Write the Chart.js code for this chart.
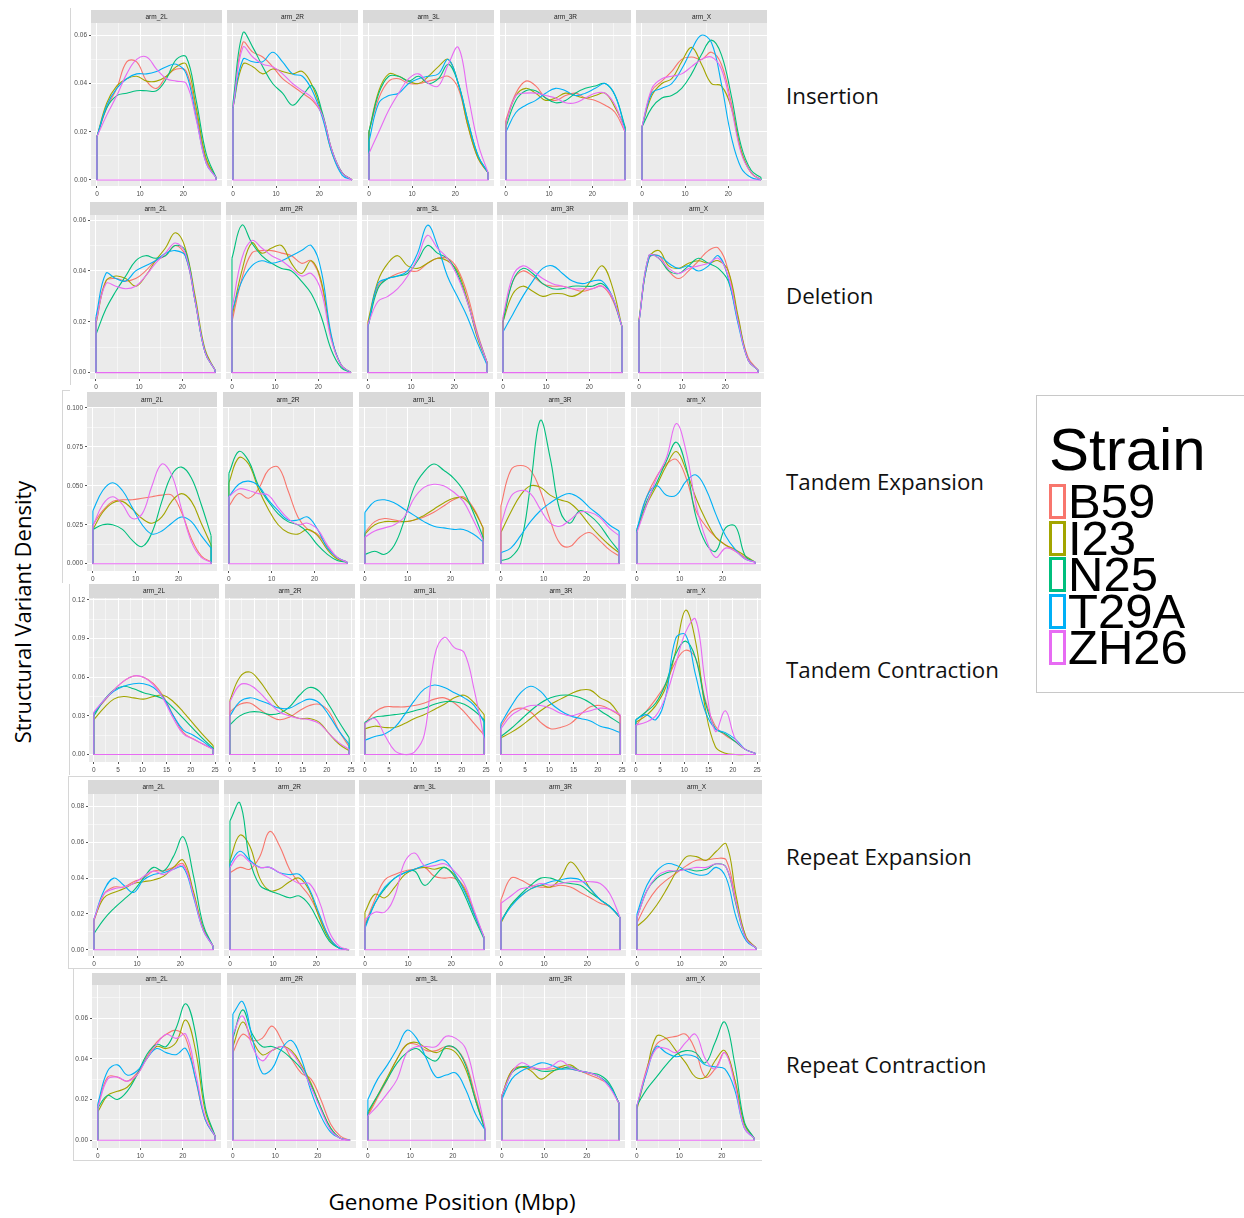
<!DOCTYPE html>
<html>
<head>
<meta charset="utf-8">
<script src="https://cdn.jsdelivr.net/npm/chart.js@4.4.0/dist/chart.umd.min.js"></script>
<style>
    body { margin: 0; width: 1244px; height: 1218px; position: relative; overflow: hidden; background: #fff; font-family: "Open Sans", sans-serif; }
    canvas { position: absolute; }
    .rowLabel { position: absolute; left: 786px; font-size: 22.3px; color: #111; white-space: nowrap; transform: translateY(-50%); }
    .line { position: absolute; background: #d6d6d6; }
    #yTitle { position: absolute; left: 22px; top: 612px; font-size: 22px; white-space: nowrap; transform: translate(-50%, -50%) rotate(-90deg); }
    #xTitle { position: absolute; left: 452px; top: 1201px; font-size: 22.5px; white-space: nowrap; transform: translate(-50%, -50%); }
    #legend { position: absolute; left: 1036px; top: 395px; width: 215px; height: 296px; border: 1px solid #c8c8c8; font-family: "Liberation Sans", Arial, sans-serif; color: #000; }
    #legend .title { position: absolute; left: 12px; top: 24px; font-size: 60px; line-height: 60px; }
    #legend .item { position: absolute; left: 31px; font-size: 49px; line-height: 37px; height: 37px; }
    #legend .key { position: absolute; left: 12px; width: 11px; height: 29px; border: 3px solid; background: #fff; }
</style>
</head>
<body>
<div class="line" style="left:70px;top:8px;width:1px;height:377px"></div>
<div class="line" style="left:62px;top:390px;width:1px;height:193px"></div>
<div class="line" style="left:62px;top:390px;width:8px;height:1px"></div>
<div class="line" style="left:69px;top:584px;width:1px;height:191px"></div>
<div class="line" style="left:68px;top:776px;width:694px;height:1px"></div>
<div class="line" style="left:68px;top:776px;width:1px;height:192px"></div>
<div class="line" style="left:68px;top:968px;width:694px;height:1px"></div>
<div class="line" style="left:73px;top:968px;width:1px;height:192px"></div>
<div class="line" style="left:73px;top:1160px;width:689px;height:1px"></div>
<div id="yTitle">Structural Variant Density</div>
<div id="xTitle">Genome Position (Mbp)</div>
<div id="legend"></div>

<script>
const strains = ['B59', 'I23', 'N25', 'T29A', 'ZH26'];
const strainColors = ['#F8766D', '#A3A500', '#00BF7D', '#00B0F6', '#E76BF3'];
const arms = ['arm_2L', 'arm_2R', 'arm_3L', 'arm_3R', 'arm_X'];

// genome positions (Mbp) where the densities are read
const positions = [0, 2.3, 4.6, 6.9, 9.2, 11.5, 13.8, 16.1, 18.4, 20.7, 23, 25.3, 27.6];
const positionsTC = [0, 2.05, 4.1, 6.15, 8.2, 10.25, 12.3, 14.35, 16.4, 18.45, 20.5, 22.55, 24.6];

// tick labels
const xTicks = [0, 10, 20];
const xTicksTC = [0, 5, 10, 15, 20, 25];
const yTicksIns = ['0.00', '0.02', '0.04', '0.06'];
const yTicksDel = ['0.00', '0.02', '0.04', '0.06'];
const yTicksTE = ['0.000', '0.025', '0.050', '0.075', '0.100'];
const yTicksTC = ['0.00', '0.03', '0.06', '0.09', '0.12'];
const yTicksRE = ['0.00', '0.02', '0.04', '0.06', '0.08'];
const yTicksRC = ['0.00', '0.02', '0.04', '0.06'];

// densities, one row per strain (B59, I23, N25, T29A, ZH26)
const insertion2L = [
    [0.018, 0.030, 0.038, 0.049, 0.049, 0.041, 0.038, 0.043, 0.046, 0.045, 0.028, 0.008, 0.001],
    [0.018, 0.032, 0.039, 0.042, 0.043, 0.041, 0.041, 0.043, 0.047, 0.048, 0.030, 0.009, 0.001],
    [0.018, 0.030, 0.035, 0.036, 0.037, 0.037, 0.037, 0.042, 0.050, 0.051, 0.033, 0.011, 0.001],
    [0.018, 0.031, 0.038, 0.042, 0.044, 0.044, 0.045, 0.047, 0.048, 0.044, 0.026, 0.007, 0.001],
    [0.018, 0.027, 0.035, 0.044, 0.050, 0.051, 0.046, 0.042, 0.041, 0.040, 0.025, 0.007, 0.001]
];
const insertion2R = [
    [0.030, 0.057, 0.053, 0.051, 0.047, 0.042, 0.039, 0.036, 0.033, 0.027, 0.012, 0.003, 0],
    [0.030, 0.048, 0.047, 0.044, 0.046, 0.045, 0.044, 0.045, 0.039, 0.027, 0.011, 0.003, 0],
    [0.032, 0.061, 0.055, 0.047, 0.040, 0.036, 0.031, 0.035, 0.039, 0.028, 0.012, 0.003, 0],
    [0.030, 0.050, 0.049, 0.049, 0.053, 0.049, 0.044, 0.043, 0.037, 0.026, 0.011, 0.002, 0],
    [0.030, 0.055, 0.051, 0.048, 0.047, 0.044, 0.040, 0.037, 0.034, 0.027, 0.012, 0.003, 0]
];
const insertion3L = [
    [0.020, 0.034, 0.041, 0.042, 0.040, 0.040, 0.041, 0.042, 0.043, 0.038, 0.022, 0.009, 0.003],
    [0.020, 0.037, 0.044, 0.043, 0.041, 0.040, 0.043, 0.047, 0.050, 0.040, 0.022, 0.009, 0.003],
    [0.020, 0.036, 0.043, 0.043, 0.041, 0.043, 0.040, 0.042, 0.048, 0.040, 0.024, 0.010, 0.003],
    [0.016, 0.032, 0.035, 0.036, 0.040, 0.042, 0.043, 0.044, 0.050, 0.040, 0.024, 0.010, 0.003],
    [0.011, 0.020, 0.029, 0.036, 0.042, 0.044, 0.040, 0.039, 0.048, 0.055, 0.035, 0.015, 0.003]
];
const insertion3R = [
    [0.025, 0.036, 0.041, 0.039, 0.034, 0.033, 0.035, 0.036, 0.034, 0.033, 0.031, 0.028, 0.020],
    [0.024, 0.035, 0.038, 0.036, 0.033, 0.034, 0.036, 0.035, 0.034, 0.035, 0.036, 0.030, 0.022],
    [0.022, 0.033, 0.037, 0.037, 0.034, 0.032, 0.033, 0.036, 0.038, 0.039, 0.040, 0.035, 0.022],
    [0.020, 0.028, 0.031, 0.033, 0.036, 0.038, 0.037, 0.035, 0.036, 0.038, 0.040, 0.035, 0.021],
    [0.024, 0.035, 0.036, 0.036, 0.035, 0.034, 0.032, 0.032, 0.034, 0.036, 0.036, 0.031, 0.020]
];
const insertionX = [
    [0.022, 0.037, 0.041, 0.045, 0.050, 0.051, 0.050, 0.053, 0.048, 0.032, 0.012, 0.003, 0],
    [0.022, 0.035, 0.040, 0.042, 0.049, 0.055, 0.048, 0.040, 0.039, 0.030, 0.012, 0.003, 0],
    [0.022, 0.030, 0.034, 0.035, 0.038, 0.044, 0.052, 0.058, 0.052, 0.035, 0.014, 0.004, 0.001],
    [0.022, 0.036, 0.038, 0.040, 0.046, 0.054, 0.060, 0.057, 0.040, 0.018, 0.005, 0.001, 0],
    [0.022, 0.038, 0.042, 0.043, 0.044, 0.047, 0.050, 0.051, 0.046, 0.030, 0.011, 0.003, 0]
];

const deletion2L = [
    [0.021, 0.036, 0.037, 0.036, 0.037, 0.040, 0.044, 0.046, 0.050, 0.046, 0.028, 0.008, 0.001],
    [0.019, 0.036, 0.038, 0.037, 0.034, 0.038, 0.044, 0.049, 0.055, 0.049, 0.030, 0.009, 0.001],
    [0.015, 0.025, 0.032, 0.038, 0.044, 0.046, 0.045, 0.046, 0.050, 0.048, 0.028, 0.008, 0.001],
    [0.022, 0.039, 0.037, 0.036, 0.040, 0.042, 0.044, 0.047, 0.048, 0.046, 0.028, 0.008, 0.001],
    [0.020, 0.035, 0.034, 0.033, 0.034, 0.038, 0.043, 0.047, 0.051, 0.047, 0.028, 0.008, 0.001]
];
const deletion2R = [
    [0.020, 0.037, 0.047, 0.048, 0.048, 0.047, 0.046, 0.043, 0.044, 0.035, 0.014, 0.003, 0],
    [0.022, 0.040, 0.051, 0.047, 0.049, 0.050, 0.043, 0.039, 0.044, 0.036, 0.014, 0.003, 0],
    [0.045, 0.058, 0.051, 0.046, 0.043, 0.041, 0.040, 0.036, 0.031, 0.022, 0.009, 0.002, 0],
    [0.024, 0.036, 0.042, 0.044, 0.043, 0.044, 0.046, 0.048, 0.050, 0.040, 0.015, 0.003, 0],
    [0.025, 0.045, 0.052, 0.049, 0.046, 0.044, 0.041, 0.038, 0.039, 0.032, 0.013, 0.003, 0]
];
const deletion3L = [
    [0.019, 0.034, 0.037, 0.039, 0.040, 0.040, 0.043, 0.045, 0.045, 0.041, 0.031, 0.016, 0.004],
    [0.020, 0.036, 0.043, 0.046, 0.042, 0.041, 0.043, 0.045, 0.044, 0.040, 0.029, 0.014, 0.004],
    [0.018, 0.033, 0.037, 0.038, 0.039, 0.044, 0.050, 0.047, 0.045, 0.039, 0.028, 0.015, 0.004],
    [0.018, 0.035, 0.037, 0.038, 0.040, 0.047, 0.058, 0.050, 0.038, 0.030, 0.022, 0.012, 0.003],
    [0.019, 0.028, 0.030, 0.033, 0.038, 0.045, 0.054, 0.049, 0.045, 0.038, 0.028, 0.015, 0.004]
];
const deletion3R = [
    [0.021, 0.036, 0.040, 0.038, 0.035, 0.034, 0.034, 0.033, 0.032, 0.033, 0.034, 0.029, 0.018],
    [0.020, 0.031, 0.034, 0.032, 0.030, 0.031, 0.031, 0.030, 0.032, 0.037, 0.042, 0.034, 0.018],
    [0.020, 0.036, 0.041, 0.039, 0.035, 0.033, 0.033, 0.034, 0.034, 0.034, 0.035, 0.030, 0.018],
    [0.016, 0.023, 0.030, 0.036, 0.041, 0.042, 0.039, 0.036, 0.035, 0.036, 0.036, 0.030, 0.018],
    [0.022, 0.038, 0.042, 0.040, 0.037, 0.035, 0.034, 0.033, 0.033, 0.033, 0.034, 0.030, 0.018]
];
const deletionX = [
    [0.020, 0.045, 0.046, 0.040, 0.037, 0.040, 0.044, 0.048, 0.049, 0.040, 0.021, 0.006, 0.001],
    [0.021, 0.045, 0.048, 0.042, 0.041, 0.043, 0.044, 0.043, 0.044, 0.040, 0.022, 0.005, 0.001],
    [0.020, 0.046, 0.045, 0.040, 0.039, 0.042, 0.045, 0.043, 0.041, 0.036, 0.020, 0.005, 0.001],
    [0.020, 0.045, 0.046, 0.043, 0.041, 0.042, 0.040, 0.042, 0.046, 0.037, 0.019, 0.005, 0.001],
    [0.020, 0.046, 0.045, 0.041, 0.039, 0.041, 0.042, 0.043, 0.045, 0.038, 0.020, 0.005, 0.001]
];

const tandemExp2L = [
    [0.025, 0.034, 0.040, 0.041, 0.041, 0.042, 0.043, 0.044, 0.044, 0.033, 0.016, 0.005, 0.001],
    [0.022, 0.033, 0.039, 0.040, 0.035, 0.029, 0.026, 0.030, 0.040, 0.045, 0.040, 0.026, 0.012],
    [0.022, 0.025, 0.025, 0.022, 0.015, 0.011, 0.020, 0.040, 0.057, 0.062, 0.055, 0.038, 0.018],
    [0.034, 0.047, 0.052, 0.047, 0.036, 0.025, 0.019, 0.021, 0.026, 0.030, 0.027, 0.018, 0.010],
    [0.024, 0.038, 0.043, 0.038, 0.029, 0.032, 0.050, 0.064, 0.057, 0.035, 0.014, 0.004, 0.001]
];
const tandemExp2R = [
    [0.037, 0.045, 0.042, 0.048, 0.060, 0.062, 0.047, 0.030, 0.022, 0.019, 0.011, 0.004, 0.001],
    [0.052, 0.068, 0.064, 0.048, 0.035, 0.025, 0.020, 0.019, 0.022, 0.018, 0.009, 0.003, 0.001],
    [0.058, 0.072, 0.066, 0.050, 0.040, 0.032, 0.027, 0.025, 0.020, 0.012, 0.006, 0.002, 0.001],
    [0.043, 0.051, 0.053, 0.050, 0.041, 0.034, 0.028, 0.028, 0.030, 0.022, 0.010, 0.004, 0.001],
    [0.043, 0.048, 0.047, 0.045, 0.044, 0.036, 0.029, 0.025, 0.026, 0.022, 0.012, 0.004, 0.001]
];
const tandemExp3L = [
    [0.020, 0.027, 0.029, 0.028, 0.027, 0.028, 0.030, 0.033, 0.037, 0.041, 0.043, 0.036, 0.023],
    [0.019, 0.025, 0.027, 0.027, 0.027, 0.028, 0.031, 0.035, 0.039, 0.042, 0.042, 0.035, 0.023],
    [0.006, 0.008, 0.006, 0.012, 0.028, 0.049, 0.059, 0.064, 0.060, 0.055, 0.047, 0.033, 0.017],
    [0.033, 0.040, 0.041, 0.039, 0.035, 0.031, 0.027, 0.024, 0.023, 0.022, 0.022, 0.019, 0.014],
    [0.017, 0.021, 0.023, 0.025, 0.030, 0.042, 0.049, 0.051, 0.050, 0.046, 0.040, 0.028, 0.015]
];
const tandemExp3R = [
    [0.037, 0.060, 0.063, 0.060, 0.047, 0.028, 0.013, 0.011, 0.017, 0.020, 0.015, 0.009, 0.005],
    [0.020, 0.033, 0.044, 0.050, 0.049, 0.044, 0.041, 0.039, 0.033, 0.025, 0.018, 0.012, 0.007],
    [0.002, 0.004, 0.013, 0.050, 0.092, 0.068, 0.034, 0.026, 0.034, 0.031, 0.025, 0.016, 0.008],
    [0.007, 0.010, 0.018, 0.027, 0.034, 0.039, 0.043, 0.045, 0.042, 0.036, 0.031, 0.025, 0.021],
    [0.025, 0.043, 0.047, 0.045, 0.035, 0.026, 0.024, 0.028, 0.033, 0.033, 0.030, 0.023, 0.018]
];
const tandemExpX = [
    [0.021, 0.043, 0.056, 0.064, 0.067, 0.055, 0.034, 0.024, 0.017, 0.012, 0.008, 0.004, 0.001],
    [0.021, 0.038, 0.050, 0.063, 0.072, 0.060, 0.042, 0.028, 0.017, 0.012, 0.009, 0.005, 0.001],
    [0.022, 0.040, 0.052, 0.066, 0.078, 0.062, 0.030, 0.013, 0.008, 0.023, 0.024, 0.005, 0.001],
    [0.022, 0.043, 0.050, 0.044, 0.044, 0.053, 0.057, 0.048, 0.032, 0.018, 0.009, 0.003, 0.001],
    [0.020, 0.038, 0.055, 0.068, 0.090, 0.072, 0.038, 0.016, 0.004, 0.010, 0.008, 0.003, 0.001]
];

const tandemCon2L = [
    [0.032, 0.041, 0.050, 0.057, 0.061, 0.060, 0.055, 0.045, 0.030, 0.017, 0.012, 0.008, 0.004],
    [0.027, 0.036, 0.043, 0.045, 0.044, 0.043, 0.045, 0.046, 0.041, 0.033, 0.024, 0.015, 0.007],
    [0.030, 0.042, 0.050, 0.053, 0.051, 0.048, 0.046, 0.043, 0.036, 0.028, 0.020, 0.012, 0.005],
    [0.032, 0.042, 0.049, 0.053, 0.055, 0.055, 0.052, 0.044, 0.030, 0.019, 0.015, 0.010, 0.004],
    [0.033, 0.042, 0.050, 0.057, 0.061, 0.060, 0.054, 0.043, 0.028, 0.016, 0.012, 0.008, 0.004]
];
const tandemCon2R = [
    [0.033, 0.039, 0.040, 0.035, 0.030, 0.027, 0.029, 0.034, 0.038, 0.039, 0.033, 0.018, 0.006],
    [0.042, 0.060, 0.064, 0.057, 0.046, 0.036, 0.031, 0.028, 0.028, 0.025, 0.016, 0.008, 0.003],
    [0.023, 0.030, 0.033, 0.033, 0.031, 0.032, 0.037, 0.046, 0.052, 0.049, 0.038, 0.025, 0.013],
    [0.030, 0.041, 0.044, 0.042, 0.039, 0.036, 0.036, 0.040, 0.043, 0.040, 0.030, 0.018, 0.008],
    [0.041, 0.054, 0.054, 0.048, 0.040, 0.033, 0.030, 0.028, 0.027, 0.024, 0.016, 0.009, 0.004]
];
const tandemCon3L = [
    [0.024, 0.033, 0.037, 0.037, 0.037, 0.038, 0.040, 0.043, 0.044, 0.040, 0.033, 0.024, 0.015],
    [0.020, 0.022, 0.021, 0.021, 0.024, 0.028, 0.031, 0.035, 0.039, 0.044, 0.046, 0.040, 0.031],
    [0.025, 0.029, 0.030, 0.031, 0.032, 0.034, 0.036, 0.039, 0.041, 0.041, 0.039, 0.034, 0.027],
    [0.011, 0.014, 0.016, 0.021, 0.031, 0.042, 0.051, 0.054, 0.052, 0.048, 0.044, 0.038, 0.025],
    [0.024, 0.028, 0.015, 0.003, 0.000, 0.002, 0.016, 0.076, 0.091, 0.083, 0.079, 0.050, 0.012]
];
const tandemCon3R = [
    [0.022, 0.033, 0.036, 0.033, 0.025, 0.020, 0.021, 0.024, 0.031, 0.037, 0.038, 0.035, 0.030],
    [0.013, 0.017, 0.022, 0.028, 0.034, 0.039, 0.043, 0.047, 0.050, 0.050, 0.044, 0.040, 0.030],
    [0.014, 0.020, 0.027, 0.034, 0.040, 0.044, 0.046, 0.046, 0.044, 0.040, 0.034, 0.029, 0.024],
    [0.024, 0.037, 0.048, 0.053, 0.049, 0.040, 0.034, 0.030, 0.028, 0.026, 0.022, 0.020, 0.017],
    [0.020, 0.030, 0.035, 0.038, 0.038, 0.036, 0.032, 0.030, 0.032, 0.034, 0.036, 0.035, 0.031]
];
const tandemConX = [
    [0.022, 0.033, 0.043, 0.055, 0.072, 0.081, 0.075, 0.042, 0.022, 0.015, 0.010, 0.004, 0.001],
    [0.025, 0.030, 0.038, 0.052, 0.080, 0.112, 0.088, 0.035, 0.006, 0.001, 0, 0, 0],
    [0.027, 0.033, 0.040, 0.055, 0.078, 0.088, 0.075, 0.040, 0.020, 0.016, 0.010, 0.004, 0.001],
    [0.027, 0.031, 0.027, 0.045, 0.090, 0.093, 0.062, 0.033, 0.020, 0.017, 0.012, 0.004, 0.001],
    [0.023, 0.025, 0.030, 0.045, 0.070, 0.095, 0.105, 0.055, 0.018, 0.034, 0.012, 0.004, 0.001]
];

const repeatExp2L = [
    [0.016, 0.031, 0.035, 0.035, 0.038, 0.040, 0.044, 0.044, 0.046, 0.048, 0.032, 0.012, 0.002],
    [0.017, 0.029, 0.032, 0.034, 0.037, 0.038, 0.039, 0.041, 0.046, 0.050, 0.033, 0.012, 0.002],
    [0.009, 0.017, 0.023, 0.028, 0.033, 0.040, 0.046, 0.044, 0.052, 0.063, 0.042, 0.014, 0.002],
    [0.017, 0.033, 0.040, 0.036, 0.032, 0.039, 0.042, 0.043, 0.045, 0.046, 0.030, 0.011, 0.002],
    [0.017, 0.031, 0.034, 0.035, 0.037, 0.041, 0.044, 0.042, 0.045, 0.047, 0.031, 0.011, 0.002]
];
const repeatExp2R = [
    [0.043, 0.046, 0.045, 0.052, 0.066, 0.058, 0.045, 0.037, 0.030, 0.019, 0.007, 0.001, 0],
    [0.050, 0.064, 0.058, 0.040, 0.033, 0.034, 0.038, 0.040, 0.033, 0.018, 0.006, 0.001, 0],
    [0.072, 0.082, 0.050, 0.036, 0.033, 0.031, 0.029, 0.030, 0.025, 0.015, 0.005, 0.001, 0],
    [0.048, 0.055, 0.050, 0.046, 0.046, 0.043, 0.042, 0.042, 0.034, 0.020, 0.007, 0.001, 0],
    [0.046, 0.053, 0.049, 0.046, 0.046, 0.043, 0.040, 0.037, 0.037, 0.027, 0.010, 0.002, 0]
];
const repeatExp3L = [
    [0.014, 0.028, 0.039, 0.042, 0.044, 0.045, 0.046, 0.041, 0.040, 0.040, 0.035, 0.021, 0.007],
    [0.021, 0.031, 0.029, 0.035, 0.042, 0.045, 0.046, 0.045, 0.046, 0.042, 0.034, 0.020, 0.007],
    [0.013, 0.026, 0.034, 0.040, 0.043, 0.044, 0.036, 0.041, 0.046, 0.041, 0.031, 0.018, 0.006],
    [0.012, 0.026, 0.035, 0.040, 0.043, 0.045, 0.047, 0.049, 0.050, 0.043, 0.033, 0.020, 0.007],
    [0.017, 0.021, 0.021, 0.030, 0.049, 0.054, 0.047, 0.047, 0.048, 0.044, 0.037, 0.022, 0.007]
];
const repeatExp3R = [
    [0.028, 0.040, 0.039, 0.036, 0.035, 0.035, 0.036, 0.035, 0.032, 0.029, 0.026, 0.024, 0.018],
    [0.015, 0.025, 0.030, 0.034, 0.036, 0.035, 0.040, 0.049, 0.043, 0.034, 0.028, 0.024, 0.018],
    [0.016, 0.025, 0.031, 0.036, 0.040, 0.040, 0.038, 0.037, 0.036, 0.032, 0.028, 0.024, 0.018],
    [0.016, 0.024, 0.030, 0.034, 0.036, 0.038, 0.039, 0.040, 0.039, 0.034, 0.028, 0.024, 0.018],
    [0.026, 0.030, 0.034, 0.035, 0.037, 0.036, 0.037, 0.038, 0.038, 0.038, 0.037, 0.031, 0.018]
];
const repeatExpX = [
    [0.015, 0.026, 0.034, 0.039, 0.043, 0.047, 0.050, 0.050, 0.051, 0.050, 0.027, 0.007, 0.001],
    [0.013, 0.018, 0.025, 0.034, 0.044, 0.052, 0.052, 0.050, 0.055, 0.059, 0.030, 0.007, 0.001],
    [0.018, 0.033, 0.040, 0.043, 0.044, 0.045, 0.044, 0.045, 0.048, 0.046, 0.025, 0.006, 0.001],
    [0.020, 0.036, 0.044, 0.048, 0.047, 0.044, 0.042, 0.042, 0.046, 0.040, 0.018, 0.005, 0.001],
    [0.018, 0.033, 0.041, 0.044, 0.044, 0.045, 0.046, 0.046, 0.048, 0.046, 0.026, 0.006, 0.001]
];

const repeatCon2L = [
    [0.017, 0.031, 0.031, 0.029, 0.033, 0.041, 0.048, 0.052, 0.054, 0.050, 0.030, 0.010, 0.002],
    [0.014, 0.022, 0.024, 0.026, 0.032, 0.040, 0.046, 0.045, 0.048, 0.059, 0.044, 0.014, 0.002],
    [0.016, 0.022, 0.020, 0.024, 0.032, 0.042, 0.047, 0.046, 0.055, 0.067, 0.052, 0.016, 0.002],
    [0.018, 0.034, 0.037, 0.032, 0.034, 0.040, 0.045, 0.043, 0.042, 0.045, 0.030, 0.010, 0.002],
    [0.016, 0.030, 0.031, 0.029, 0.032, 0.040, 0.047, 0.052, 0.050, 0.052, 0.033, 0.011, 0.002]
];
const repeatCon2R = [
    [0.043, 0.052, 0.049, 0.050, 0.056, 0.049, 0.040, 0.033, 0.030, 0.020, 0.008, 0.002, 0],
    [0.046, 0.058, 0.049, 0.042, 0.044, 0.046, 0.044, 0.037, 0.028, 0.016, 0.006, 0.001, 0],
    [0.050, 0.064, 0.052, 0.046, 0.046, 0.044, 0.040, 0.035, 0.027, 0.016, 0.006, 0.001, 0],
    [0.062, 0.068, 0.050, 0.033, 0.035, 0.045, 0.049, 0.040, 0.024, 0.012, 0.004, 0.001, 0],
    [0.052, 0.061, 0.046, 0.039, 0.044, 0.046, 0.043, 0.036, 0.026, 0.015, 0.005, 0.001, 0]
];
const repeatCon3L = [
    [0.012, 0.021, 0.030, 0.040, 0.047, 0.047, 0.044, 0.044, 0.046, 0.045, 0.038, 0.022, 0.005],
    [0.013, 0.022, 0.031, 0.040, 0.047, 0.048, 0.045, 0.043, 0.045, 0.043, 0.035, 0.020, 0.005],
    [0.014, 0.022, 0.030, 0.038, 0.043, 0.045, 0.041, 0.039, 0.046, 0.045, 0.037, 0.020, 0.005],
    [0.020, 0.030, 0.037, 0.045, 0.054, 0.050, 0.040, 0.031, 0.032, 0.033, 0.025, 0.013, 0.005],
    [0.012, 0.017, 0.023, 0.030, 0.043, 0.046, 0.046, 0.046, 0.051, 0.050, 0.045, 0.027, 0.006]
];
const repeatCon3R = [
    [0.022, 0.034, 0.036, 0.035, 0.035, 0.035, 0.036, 0.035, 0.034, 0.032, 0.030, 0.027, 0.018],
    [0.022, 0.034, 0.036, 0.034, 0.030, 0.033, 0.036, 0.037, 0.034, 0.033, 0.031, 0.027, 0.018],
    [0.021, 0.033, 0.036, 0.036, 0.034, 0.034, 0.035, 0.036, 0.034, 0.033, 0.032, 0.028, 0.018],
    [0.020, 0.030, 0.034, 0.036, 0.038, 0.037, 0.035, 0.035, 0.034, 0.033, 0.031, 0.027, 0.018],
    [0.022, 0.033, 0.038, 0.036, 0.035, 0.036, 0.039, 0.036, 0.034, 0.033, 0.031, 0.026, 0.018]
];
const repeatConX = [
    [0.016, 0.035, 0.047, 0.050, 0.051, 0.052, 0.044, 0.031, 0.035, 0.043, 0.030, 0.008, 0.001],
    [0.015, 0.034, 0.051, 0.050, 0.044, 0.038, 0.031, 0.031, 0.039, 0.044, 0.030, 0.008, 0.001],
    [0.017, 0.025, 0.031, 0.037, 0.042, 0.044, 0.043, 0.038, 0.048, 0.058, 0.038, 0.009, 0.001],
    [0.017, 0.033, 0.046, 0.043, 0.041, 0.042, 0.041, 0.037, 0.036, 0.035, 0.025, 0.006, 0.001],
    [0.017, 0.034, 0.045, 0.045, 0.043, 0.048, 0.052, 0.040, 0.035, 0.043, 0.028, 0.006, 0.001]
];

// one facet row per structural variant type, with its place on the page
const facetRows = [
    { label: 'Insertion', panels: [insertion2L, insertion2R, insertion3L, insertion3R, insertionX],
      pos: positions, xTicks: xTicks, yTicks: yTicksIns, xRange: [-1.38, 28.98], yRange: [-0.0025, 0.0651],
      top: 10, strip: 13, bottom: 186, left: 91, pitch: 136.2, width: 131, labelY: 95 },
    { label: 'Deletion', panels: [deletion2L, deletion2R, deletion3L, deletion3R, deletionX],
      pos: positions, xTicks: xTicks, yTicks: yTicksDel, xRange: [-1.38, 28.98], yRange: [-0.0025, 0.062],
      top: 202, strip: 13, bottom: 379, left: 90, pitch: 135.8, width: 131, labelY: 295 },
    { label: 'Tandem Expansion', panels: [tandemExp2L, tandemExp2R, tandemExp3L, tandemExp3R, tandemExpX],
      pos: positions, xTicks: xTicks, yTicks: yTicksTE, xRange: [-1.38, 28.98], yRange: [-0.0047, 0.1006],
      top: 392, strip: 15, bottom: 571, left: 87, pitch: 136, width: 130, labelY: 481 },
    { label: 'Tandem Contraction', panels: [tandemCon2L, tandemCon2R, tandemCon3L, tandemCon3R, tandemConX],
      pos: positionsTC, xTicks: xTicksTC, yTicks: yTicksTC, xRange: [-1.0, 25.8], yRange: [-0.0058, 0.1215],
      top: 584, strip: 14, bottom: 762, left: 89, pitch: 135.5, width: 130, labelY: 669 },
    { label: 'Repeat Expansion', panels: [repeatExp2L, repeatExp2R, repeatExp3L, repeatExp3R, repeatExpX],
      pos: positions, xTicks: xTicks, yTicks: yTicksRE, xRange: [-1.38, 28.98], yRange: [-0.0035, 0.087],
      top: 780, strip: 14, bottom: 956, left: 88, pitch: 135.7, width: 131, labelY: 856 },
    { label: 'Repeat Contraction', panels: [repeatCon2L, repeatCon2R, repeatCon3L, repeatCon3R, repeatConX],
      pos: positions, xTicks: xTicks, yTicks: yTicksRC, xRange: [-1.38, 28.98], yRange: [-0.0038, 0.0762],
      top: 973, strip: 12, bottom: 1148, left: 92, pitch: 134.8, width: 129, labelY: 1064 }
];

const tickFont = { family: '"Liberation Sans", Arial, sans-serif', size: 6.5 };
const Y_AXIS_W = 24;
const X_AXIS_H = 14;
const PAD_RIGHT = 5;

// grey panel, strip on top with the arm name
const facetStrip = {
    id: 'facetStrip',
    beforeDraw(chart, args, opts) {
        const { ctx, chartArea: a } = chart;
        ctx.save();
        ctx.fillStyle = '#EBEBEB';
        ctx.fillRect(a.left, a.top, a.right - a.left, a.bottom - a.top);
        ctx.fillStyle = '#D9D9D9';
        ctx.fillRect(a.left, 0, a.right - a.left, a.top);
        ctx.fillStyle = '#1A1A1A';
        ctx.font = '6.5px "Liberation Sans", Arial, sans-serif';
        ctx.textAlign = 'center';
        ctx.textBaseline = 'middle';
        ctx.fillText(opts.text, (a.left + a.right) / 2, a.top / 2 + 0.5);
        ctx.restore();
    }
};

// major ticks with labels, minor ticks halfway between them
function withMinors(values, labels) {
    const out = [];
    values.forEach((v, i) => {
        out.push({ value: v, text: labels[i], minor: false });
        if (i < values.length - 1) out.push({ value: (v + values[i + 1]) / 2, text: '', minor: true });
    });
    const step = values[1] - values[0];
    out.push({ value: values[values.length - 1] + step / 2, text: '', minor: true });
    return out;
}

function makeDatasets(series, pos) {
    const sets = [];
    const last = pos.length - 1;
    const lastStrain = series.length - 1;
    series.forEach((vals, i) => {
        const layer = strains.length - 1 - i;
        const base = { borderColor: strainColors[i], borderWidth: 1.1, pointRadius: 0, showLine: true, fill: false, spanGaps: false, order: layer };
        sets.push(Object.assign({}, base, {
            label: strains[i],
            data: vals.map((v, k) => ({ x: pos[k], y: v })),
            tension: 0.4
        }));
        // sides of the density outline; the top strain also closes it along zero
        const outline = i === lastStrain
            ? [{ x: pos[0], y: vals[0] }, { x: pos[0], y: 0 }, { x: pos[last], y: 0 }, { x: pos[last], y: vals[last] }]
            : [{ x: pos[0], y: vals[0] }, { x: pos[0], y: 0 }, { x: pos[0], y: null }, { x: pos[last], y: 0 }, { x: pos[last], y: vals[last] }];
        sets.push(Object.assign({}, base, { label: strains[i] + ' outline', data: outline, tension: 0 }));
    });
    return sets;
}

function drawPanel(row, col) {
    const first = col === 0;
    const left = Math.round(row.left + col * row.pitch) - (first ? Y_AXIS_W : 0);
    const width = row.width + (first ? Y_AXIS_W : 0) + PAD_RIGHT;
    const height = row.bottom - row.top + X_AXIS_H;
    const canvas = document.createElement('canvas');
    canvas.width = width;
    canvas.height = height;
    canvas.style.left = left + 'px';
    canvas.style.top = row.top + 'px';
    canvas.style.width = width + 'px';
    canvas.style.height = height + 'px';
    document.body.appendChild(canvas);

    const yValues = row.yTicks.map(Number);
    const isMinor = c => c.tick && c.tick.minor;

    new Chart(canvas.getContext('2d'), {
        type: 'scatter',
        data: { datasets: makeDatasets(row.panels[col], row.pos) },
        options: {
            responsive: false,
            animation: false,
            events: [],
            layout: { padding: { top: row.strip, right: PAD_RIGHT, left: 0, bottom: 0 } },
            plugins: {
                legend: { display: false },
                tooltip: { enabled: false },
                facetStrip: { text: arms[col] }
            },
            scales: {
                x: {
                    type: 'linear',
                    min: row.xRange[0],
                    max: row.xRange[1],
                    border: { display: false },
                    grid: {
                        color: '#FFFFFF',
                        lineWidth: c => isMinor(c) ? 0.5 : 1,
                        tickLength: 2,
                        tickColor: c => isMinor(c) ? 'rgba(0,0,0,0)' : '#555555'
                    },
                    ticks: {
                        font: tickFont, color: '#4D4D4D', padding: 2,
                        maxRotation: 0, minRotation: 0, autoSkip: false,
                        callback: (v, i, ticks) => ticks[i].text
                    },
                    afterBuildTicks: s => { s.ticks = withMinors(row.xTicks, row.xTicks.map(String)).filter(t => t.value <= row.xRange[1]); },
                    afterFit: s => { s.height = X_AXIS_H; s.paddingLeft = 0; s.paddingRight = 0; }
                },
                y: {
                    type: 'linear',
                    min: row.yRange[0],
                    max: row.yRange[1],
                    border: { display: false },
                    grid: {
                        color: '#FFFFFF',
                        lineWidth: c => isMinor(c) ? 0.5 : 1,
                        drawTicks: first,
                        tickLength: 2,
                        tickColor: c => isMinor(c) ? 'rgba(0,0,0,0)' : '#555555'
                    },
                    ticks: {
                        display: first,
                        font: tickFont, color: '#4D4D4D', padding: 2,
                        callback: (v, i, ticks) => ticks[i].text
                    },
                    afterBuildTicks: s => { s.ticks = withMinors(yValues, row.yTicks).filter(t => t.value <= row.yRange[1]); },
                    afterFit: s => { s.width = first ? Y_AXIS_W : 0; s.paddingTop = 0; s.paddingBottom = 0; }
                }
            }
        },
        plugins: [facetStrip]
    });
}

facetRows.forEach(row => {
    arms.forEach((arm, col) => drawPanel(row, col));
    const lab = document.createElement('div');
    lab.className = 'rowLabel';
    lab.style.top = row.labelY + 'px';
    lab.textContent = row.label;
    document.body.appendChild(lab);
});

// legend
const legend = document.getElementById('legend');
const title = document.createElement('div');
title.className = 'title';
title.textContent = 'Strain';
legend.appendChild(title);
strains.forEach((s, i) => {
    const top = 87 + i * 36.6;
    const key = document.createElement('div');
    key.className = 'key';
    key.style.top = (top + 1) + 'px';
    key.style.borderColor = strainColors[i];
    legend.appendChild(key);
    const item = document.createElement('div');
    item.className = 'item';
    item.style.top = top + 'px';
    item.textContent = s;
    legend.appendChild(item);
});
</script>
</body>
</html>
